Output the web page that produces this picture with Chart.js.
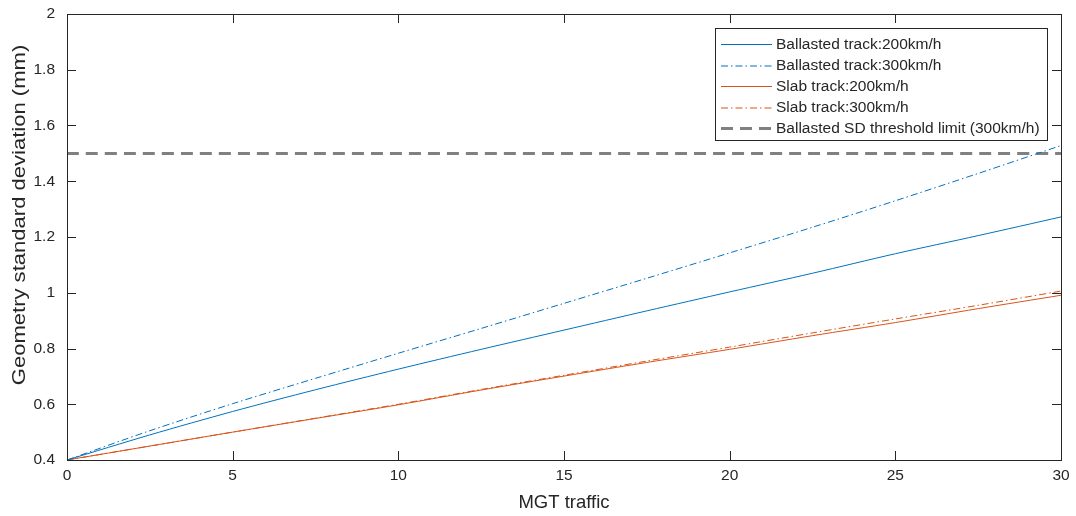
<!DOCTYPE html>
<html>
<head>
<meta charset="utf-8">
<script src="https://cdn.jsdelivr.net/npm/chart.js@4/dist/chart.umd.min.js"></script>
<style>
  html, body { margin: 0; padding: 0; background: #fff; }
  #wrap { width: 1076px; height: 516px; }
</style>
</head>
<body>
<div id="wrap"><canvas id="sdChart"></canvas></div>
<script>
// MGT traffic sample points and geometry SD (mm) for each track type
const mgt = [0, 2.5, 5, 7.5, 10, 12.5, 15, 17.5, 20, 22.5, 25, 27.5, 30];
const ballasted200 = [0.4, 0.49, 0.574, 0.652, 0.726, 0.797, 0.866, 0.935, 1.003, 1.07, 1.14, 1.205, 1.272];
const ballasted300 = [0.4, 0.505, 0.602, 0.693, 0.783, 0.872, 0.962, 1.052, 1.143, 1.235, 1.33, 1.428, 1.528];
const slab200 = [0.4, 0.45, 0.5, 0.549, 0.598, 0.651, 0.701, 0.75, 0.797, 0.846, 0.893, 0.943, 0.991];
const slab300 = [0.4, 0.45, 0.5, 0.55, 0.6, 0.653, 0.704, 0.755, 0.805, 0.856, 0.906, 0.955, 1.006];
const thresholdSD = 1.5;
const xRange = [0, 30];
const yTicks = [0.4, 0.6, 0.8, 1, 1.2, 1.4, 1.6, 1.8, 2];
const xTicks = [0, 5, 10, 15, 20, 25, 30];
const yTitle = 'Geometry standard deviation (mm)';

const axisColor = '#262626';
const fontFamily = '"Liberation Sans", Arial, Helvetica, sans-serif';
const blue = '#0072BD';
const orange = '#D95319';
const dashDot = [7, 3, 1.5, 3];

function pairs(xs, ys) {
  return xs.map((x, i) => ({ x: x, y: ys[i] }));
}

// inward ticks on all four sides, box outline, y title and legend
const boxAxes = {
  id: 'boxAxes',
  afterDraw(chart) {
    const c = chart.ctx;
    const a = chart.chartArea;
    const xs = chart.scales.x, ys = chart.scales.y;
    const len = 9;
    c.save();
    c.strokeStyle = axisColor;
    c.lineWidth = 1;
    c.beginPath();
    xTicks.forEach(v => {
      const px = Math.round(xs.getPixelForValue(v)) + 0.5;
      c.moveTo(px, a.bottom); c.lineTo(px, a.bottom - len);
      c.moveTo(px, a.top); c.lineTo(px, a.top + len);
    });
    yTicks.forEach(v => {
      const py = Math.round(ys.getPixelForValue(v)) + 0.5;
      c.moveTo(a.left, py); c.lineTo(a.left + len, py);
      c.moveTo(a.right, py); c.lineTo(a.right - len, py);
    });
    c.stroke();
    c.strokeRect(Math.round(a.left) + 0.5, Math.round(a.top) + 0.5,
      Math.round(a.right - a.left), Math.round(a.bottom - a.top));

    // y axis title, a little stretched along its length
    c.save();
    c.translate(20, 215);
    c.rotate(-Math.PI / 2);
    c.scale(1.16, 1);
    c.font = '19px ' + fontFamily;
    c.fillStyle = axisColor;
    c.textAlign = 'center';
    c.textBaseline = 'middle';
    c.fillText(yTitle, 0, 0);
    c.restore();

    // legend box
    const lx = 715, ly = 28, lw = 332, lh = 112;
    c.fillStyle = '#fff';
    c.fillRect(lx, ly, lw, lh);
    c.strokeStyle = axisColor;
    c.lineWidth = 1;
    c.strokeRect(lx + 0.5, ly + 0.5, lw, lh);
    c.font = '15.5px ' + fontFamily;
    c.textBaseline = 'middle';
    c.textAlign = 'left';
    chart.data.datasets.forEach((ds, i) => {
      const opts = chart.getDatasetMeta(i).dataset.options;
      const dash = opts.borderDash || [];
      const y = Math.round(ly + 15.5 + i * 21.2);
      // thin dash-dot samples sit between pixel rows so they come out soft
      const ly2 = (dash.length && opts.borderWidth < 2) ? y + 1 : y + 0.5;
      c.save();
      c.strokeStyle = opts.borderColor;
      c.lineWidth = opts.borderWidth;
      c.setLineDash(dash);
      c.beginPath();
      c.moveTo(lx + 6, ly2);
      c.lineTo(lx + 57, ly2);
      c.stroke();
      c.restore();
      c.fillStyle = axisColor;
      c.fillText(ds.label, lx + 61, y + 1);
    });
    c.restore();
  }
};

new Chart(document.getElementById('sdChart'), {
  type: 'line',
  data: {
    datasets: [
      { label: 'Ballasted track:200km/h', data: pairs(mgt, ballasted200), borderColor: blue, borderWidth: 1 },
      { label: 'Ballasted track:300km/h', data: pairs(mgt, ballasted300), borderColor: blue, borderWidth: 1, borderDash: dashDot },
      { label: 'Slab track:200km/h', data: pairs(mgt, slab200), borderColor: orange, borderWidth: 1 },
      { label: 'Slab track:300km/h', data: pairs(mgt, slab300), borderColor: orange, borderWidth: 1, borderDash: dashDot },
      { label: 'Ballasted SD threshold limit (300km/h)', data: pairs(xRange, [thresholdSD, thresholdSD]),
        borderColor: '#808080', borderWidth: 3, borderDash: [12, 7] }
    ]
  },
  options: {
    responsive: true,
    maintainAspectRatio: false,
    animation: false,
    devicePixelRatio: 1,
    layout: { padding: { top: 14, right: 15, left: 0, bottom: 0 } },
    elements: {
      point: { radius: 0 },
      line: { tension: 0.3, fill: false }
    },
    plugins: {
      legend: { display: false },
      tooltip: { enabled: false }
    },
    scales: {
      x: {
        type: 'linear',
        min: 0, max: 30,
        afterBuildTicks: s => { s.ticks = xTicks.map(v => ({ value: v })); },
        afterFit: s => { s.height = 56; s.paddingLeft = 0; s.paddingRight = 0; },
        grid: { display: false, drawTicks: false },
        border: { display: false },
        ticks: { color: axisColor, padding: 6, maxRotation: 0, font: { family: fontFamily, size: 15.5 } },
        title: { display: true, text: 'MGT traffic', color: axisColor, padding: { top: 0, bottom: 2 },
          font: { family: fontFamily, size: 18.5 } }
      },
      y: {
        type: 'linear',
        min: 0.4, max: 2,
        afterBuildTicks: s => { s.ticks = yTicks.map(v => ({ value: v })); },
        afterFit: s => { s.width = 67; s.paddingTop = 0; s.paddingBottom = 0; },
        grid: { display: false, drawTicks: false },
        border: { display: false },
        ticks: {
          color: axisColor, padding: 12, font: { family: fontFamily, size: 15.5 },
          callback: v => String(Math.round(v * 10) / 10)
        },
        title: { display: false }
      }
    }
  },
  plugins: [boxAxes]
});
</script>
</body>
</html>
